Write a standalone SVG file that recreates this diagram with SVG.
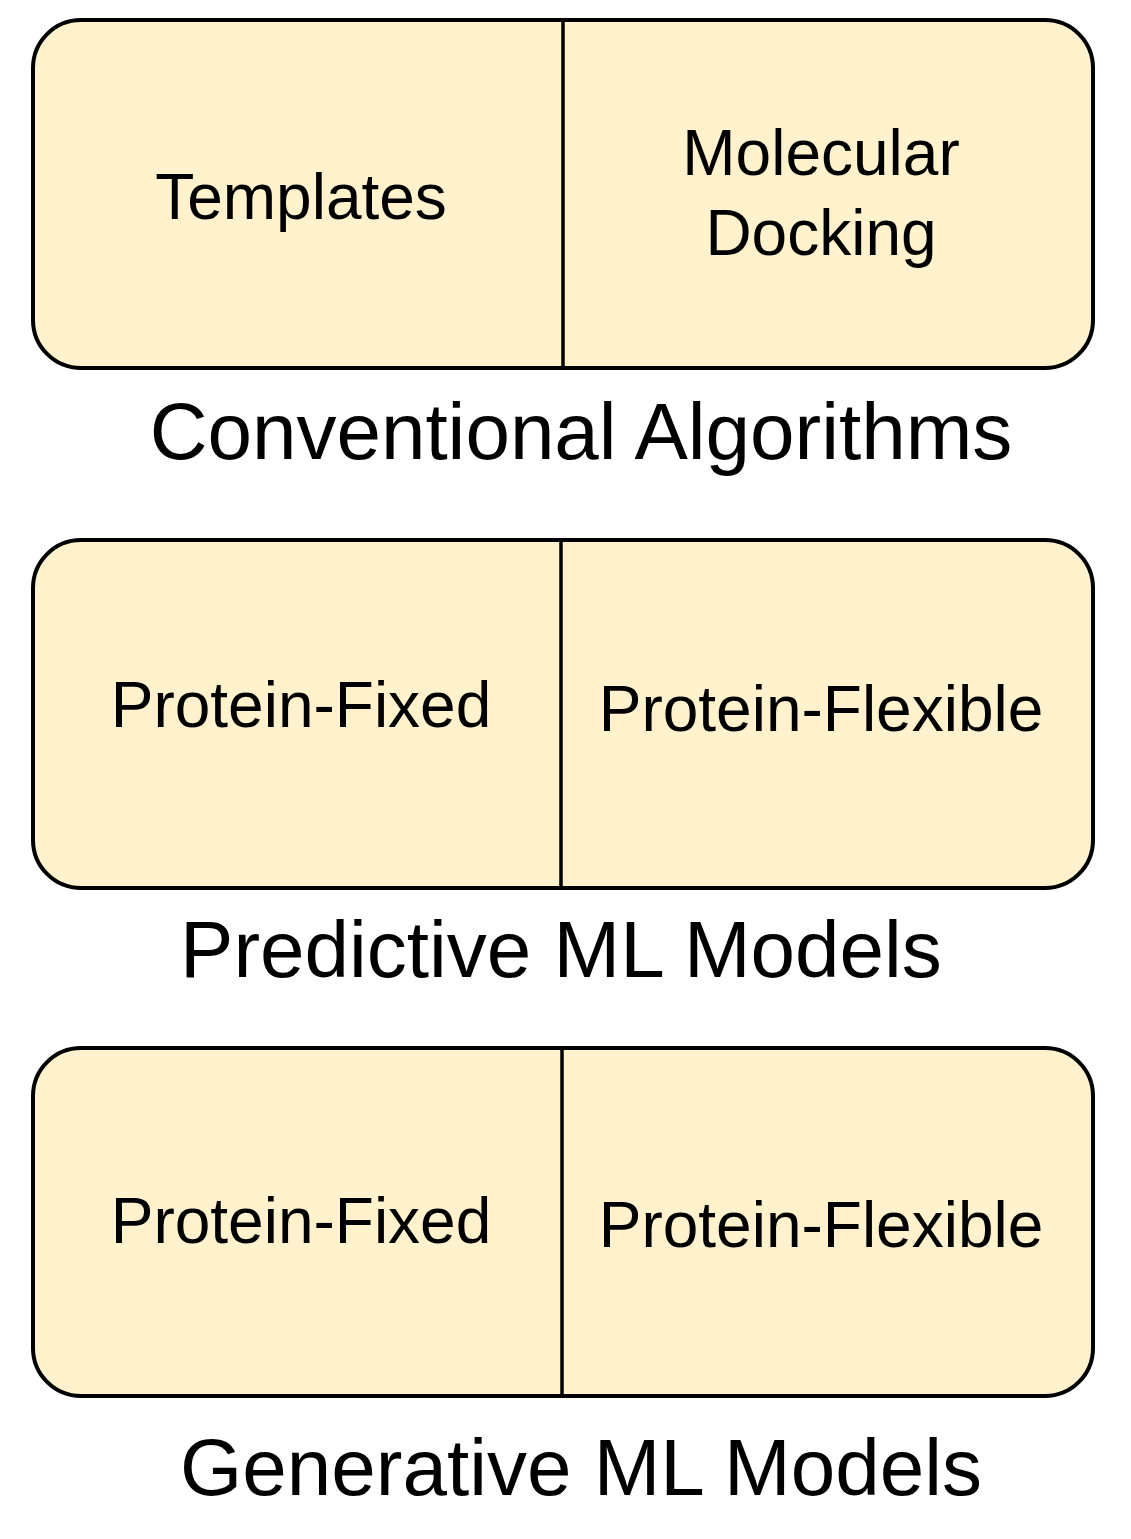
<svg xmlns="http://www.w3.org/2000/svg" width="1131" height="1539" viewBox="0 0 1131 1539">
<style>
.box{fill:#fff2cc;stroke:#000;stroke-width:4}
.div{stroke:#000;stroke-width:3.5}
.t{font-family:"Liberation Sans",Arial,sans-serif;font-size:64px;fill:#000;text-anchor:middle}
.lbl{font-family:"Liberation Sans",Arial,sans-serif;font-size:80px;fill:#000;text-anchor:middle}
</style>
<rect width="1131" height="1539" fill="#fff"/>
<g id="conventional">
<rect class="box" x="33" y="20" width="1060" height="348" rx="48" ry="48"/>
<line class="div" x1="563" y1="20" x2="563" y2="368"/>
<text class="t" x="301" y="219">Templates</text>
<text class="t" x="821" y="175">Molecular</text>
<text class="t" x="821" y="255">Docking</text>
<text class="lbl" x="581" y="459">Conventional Algorithms</text>
</g>
<g id="predictive">
<rect class="box" x="33" y="540" width="1060" height="348" rx="48" ry="48"/>
<line class="div" x1="561" y1="540" x2="561" y2="888"/>
<text class="t" x="301" y="727">Protein-Fixed</text>
<text class="t" x="821" y="731">Protein-Flexible</text>
<text class="lbl" x="561" y="977">Predictive ML Models</text>
</g>
<g id="generative">
<rect class="box" x="33" y="1048" width="1060" height="348" rx="48" ry="48"/>
<line class="div" x1="562" y1="1048" x2="562" y2="1396"/>
<text class="t" x="301" y="1243">Protein-Fixed</text>
<text class="t" x="821" y="1247">Protein-Flexible</text>
<text class="lbl" x="581" y="1495">Generative ML Models</text>
</g>
<g id="connectors"/>
</svg>
